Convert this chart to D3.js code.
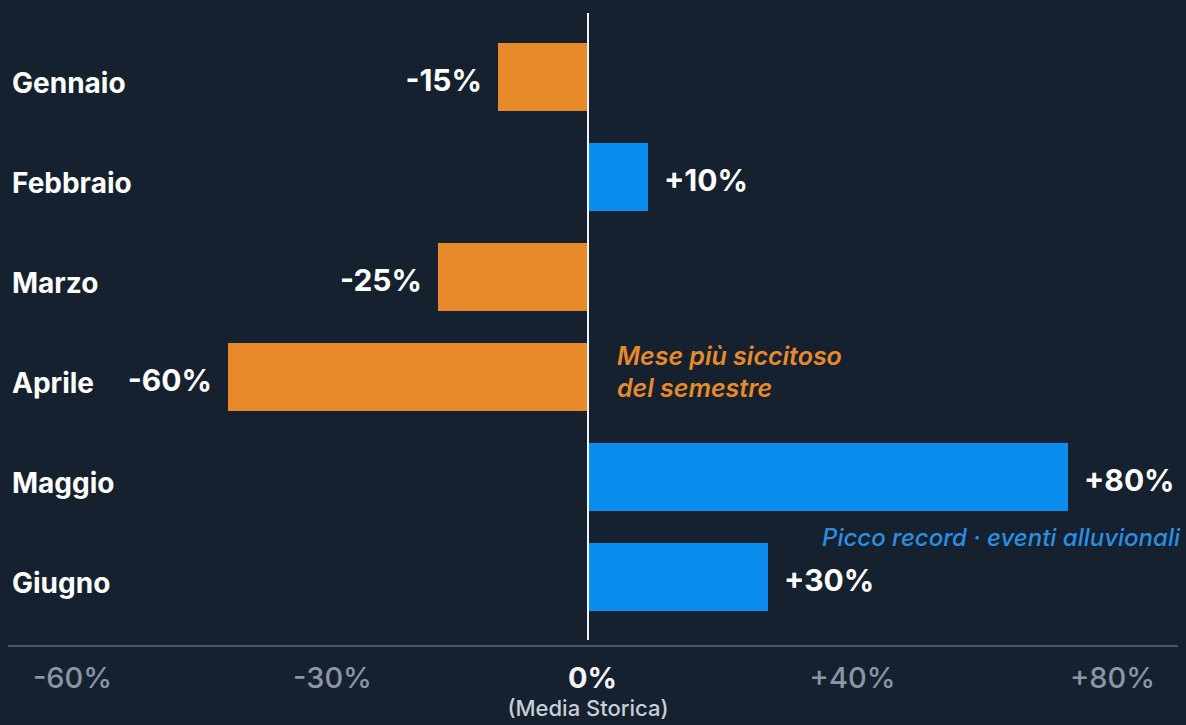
<!DOCTYPE html>
<html lang="it">
<head>
<meta charset="UTF-8">
<title>Precipitazioni rispetto alla media storica</title>
<script src="https://d3js.org/d3.v7.min.js"></script>
<style>
  html, body { margin: 0; padding: 0; background: #15212f; }
  svg { display: block; font-family: Inter, "Noto Sans", Arial, sans-serif; }
</style>
</head>
<body>
<div id="chart"></div>
<script>
// chart data
var months = ['Gennaio', 'Febbraio', 'Marzo', 'Aprile', 'Maggio', 'Giugno'];
var deviation = [-15, 10, -25, -60, 80, 30];   // % vs media storica
var tickLabels = ['-60%', '-30%', '0%', '+40%', '+80%'];
var dryNote = ['Mese più siccitoso', 'del semestre'];
var wetNote = 'Picco record · eventi alluvionali';

var width = 1186, height = 725;
var orange = '#e8892a', blue = '#0b8def';

var svg = d3.select('#chart').append('svg')
    .attr('width', width)
    .attr('height', height);

svg.append('rect')
    .attr('width', width)
    .attr('height', height)
    .attr('fill', '#15212f');

var x = d3.scaleLinear().domain([-60, 80]).range([228, 1068]);
var y = d3.scaleBand().domain(months).range([27, 627])
    .paddingInner(0.32).paddingOuter(0.16);

var data = months.map(function(m, i) { return {month: m, value: deviation[i]}; });

// bars
svg.selectAll('rect.bar')
    .data(data)
    .enter().append('rect')
    .attr('class', 'bar')
    .attr('x', d => Math.min(x(0), x(d.value)))
    .attr('width', d => Math.abs(x(d.value) - x(0)))
    .attr('y', d => y(d.month))
    .attr('height', y.bandwidth())
    .attr('fill', d => d.value < 0 ? orange : blue);

// zero line
svg.append('line')
    .attr('x1', x(0)).attr('x2', x(0))
    .attr('y1', 13).attr('y2', 640)
    .attr('stroke', '#f2f4f7')
    .attr('stroke-width', 2);

// month labels
svg.selectAll('text.month')
    .data(data)
    .enter().append('text')
    .attr('class', 'month')
    .attr('x', 12)
    .attr('y', d => y(d.month) + y.bandwidth() / 2 + 16)
    .attr('fill', '#ffffff')
    .attr('font-size', 28)
    .attr('font-weight', 700)
    .text(d => d.month);

// value labels
svg.selectAll('text.value')
    .data(data)
    .enter().append('text')
    .attr('class', 'value')
    .attr('x', d => d.value < 0 ? x(d.value) - 16 : x(d.value) + 16)
    .attr('y', d => y(d.month) + y.bandwidth() / 2 + 14)
    .attr('text-anchor', d => d.value < 0 ? 'end' : 'start')
    .attr('fill', '#ffffff')
    .attr('font-size', 30)
    .attr('font-weight', 700)
    .text(d => (d.value > 0 ? '+' : '') + d.value + '%');

// annotations
svg.append('text')
    .attr('x', x(0) + 29)
    .attr('y', y('Aprile') + 22)
    .attr('fill', orange)
    .attr('font-size', 25)
    .attr('font-weight', 600)
    .attr('font-style', 'italic')
    .selectAll('tspan')
    .data(dryNote)
    .enter().append('tspan')
    .attr('x', x(0) + 29)
    .attr('dy', (d, i) => i === 0 ? 0 : 32)
    .text(d => d);

svg.append('text')
    .attr('x', 1180)
    .attr('y', y('Giugno') + 3)
    .attr('text-anchor', 'end')
    .attr('fill', '#2a8fe2')
    .attr('font-size', 24)
    .attr('font-weight', 500)
    .attr('font-style', 'italic')
    .text(wetNote);

// bottom axis
svg.append('line')
    .attr('x1', 8).attr('x2', 1178)
    .attr('y1', 646).attr('y2', 646)
    .attr('stroke', '#4a5666')
    .attr('stroke-width', 2);

var tickScale = d3.scalePoint().domain(tickLabels).range([72, 1112]);

var axis = svg.append('g')
    .attr('transform', 'translate(0,646)')
    .call(d3.axisBottom(tickScale).tickSize(0).tickPadding(21));

axis.select('.domain').remove();
axis.selectAll('text')
    .attr('font-family', 'Inter, "Noto Sans", Arial, sans-serif')
    .attr('font-size', 29)
    .attr('font-weight', d => d === '0%' ? 700 : 500)
    .attr('fill', d => d === '0%' ? '#f2f4f7' : '#8b95a3');

svg.append('text')
    .attr('x', x(0))
    .attr('y', 716)
    .attr('text-anchor', 'middle')
    .attr('fill', '#c8ced6')
    .attr('font-size', 22)
    .attr('font-weight', 500)
    .text('(Media Storica)');
</script>
</body>
</html>
